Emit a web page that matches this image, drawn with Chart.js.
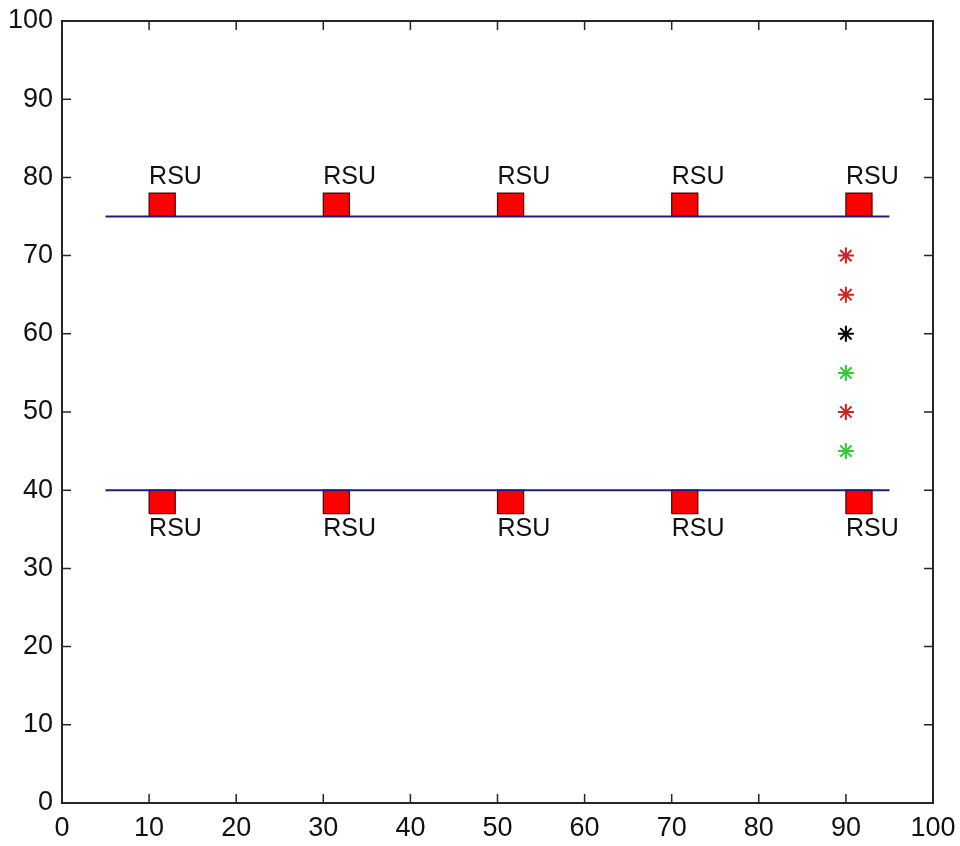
<!DOCTYPE html>
<html>
<head>
<meta charset="utf-8">
<script src="https://cdn.jsdelivr.net/npm/chart.js@4.4.0/dist/chart.umd.min.js"></script>
<style>
  html, body { margin: 0; padding: 0; background: #fff; }
  canvas { display: block; }
</style>
</head>
<body>
<canvas id="myChart" width="960" height="846"></canvas>
<script>
// road lines (y value, from x to x)
var roadY = [75, 40];
var roadStart = 5;
var roadEnd = 95;

// RSU boxes: lower-left corner x, box bottom y per row, box size
var rsuX = [10, 30, 50, 70, 90];
var rsuRowY = [75, 37];
var rsuSize = 3;
// RSU text labels
var rsuLabelY = [80, 35];
var rsuLabel = "RSU";

// vehicles at x = 90
var carX = [90, 90, 90, 90, 90, 90];
var carY = [70, 65, 60, 55, 50, 45];
var carColor = ['rgb(205,35,35)', 'rgb(205,35,35)', 'rgb(0,0,0)', 'rgb(50,205,50)', 'rgb(205,35,35)', 'rgb(50,205,50)'];

var tickVals = [0, 10, 20, 30, 40, 50, 60, 70, 80, 90, 100];

var datasets = [];

// roads
roadY.forEach(function (y) {
  datasets.push({
    type: 'line',
    data: [{x: roadStart, y: y}, {x: roadEnd, y: y}],
    borderColor: '#1e1e7a',
    borderWidth: 2,
    pointRadius: 0,
    fill: false
  });
});

// RSU boxes as closed filled shapes
rsuRowY.forEach(function (y0) {
  rsuX.forEach(function (x0) {
    datasets.push({
      type: 'line',
      data: [
        {x: x0, y: y0}, {x: x0 + rsuSize, y: y0},
        {x: x0 + rsuSize, y: y0 + rsuSize}, {x: x0, y: y0 + rsuSize},
        {x: x0, y: y0}
      ],
      borderColor: '#4a0000',
      borderWidth: 1.2,
      backgroundColor: '#ff0000',
      pointRadius: 0,
      tension: 0,
      fill: 'shape'
    });
  });
});

// vehicles
datasets.push({
  type: 'scatter',
  data: carX.map(function (x, i) { return {x: x, y: carY[i]}; }),
  pointStyle: 'star',
  pointRadius: 8,
  pointBorderWidth: 2,
  pointBorderColor: carColor,
  pointBackgroundColor: carColor
});

// box + inward ticks + RSU labels
var matlabAxes = {
  id: 'matlabAxes',
  afterDraw: function (chart) {
    var ctx = chart.ctx;
    var a = chart.chartArea;
    var xs = chart.scales.x, ys = chart.scales.y;
    ctx.save();
    ctx.strokeStyle = '#262626';
    ctx.lineWidth = 2;
    ctx.strokeRect(a.left, a.top, a.right - a.left, a.bottom - a.top);
    ctx.lineWidth = 1.5;
    ctx.beginPath();
    tickVals.forEach(function (v) {
      var px = xs.getPixelForValue(v);
      ctx.moveTo(px, a.bottom); ctx.lineTo(px, a.bottom - 9);
      ctx.moveTo(px, a.top); ctx.lineTo(px, a.top + 9);
      var py = ys.getPixelForValue(v);
      ctx.moveTo(a.left, py); ctx.lineTo(a.left + 9, py);
      ctx.moveTo(a.right, py); ctx.lineTo(a.right - 9, py);
    });
    ctx.stroke();

    ctx.fillStyle = '#111';
    ctx.font = '25px "Liberation Sans", Arial, sans-serif';
    ctx.textAlign = 'left';
    ctx.textBaseline = 'middle';
    rsuLabelY.forEach(function (ly) {
      rsuX.forEach(function (lx) {
        ctx.fillText(rsuLabel, xs.getPixelForValue(lx), ys.getPixelForValue(ly));
      });
    });
    ctx.restore();
  }
};

var tickFont = { family: '"Liberation Sans", Arial, sans-serif', size: 27, lineHeight: 1 };

var ctx = document.getElementById('myChart').getContext('2d');
var chart = new Chart(ctx, {
  type: 'scatter',
  data: { datasets: datasets },
  options: {
    responsive: false,
    animation: false,
    layout: { padding: { top: 21, right: 27, left: 0, bottom: 0 } },
    plugins: { legend: { display: false }, tooltip: { enabled: false } },
    scales: {
      x: {
        type: 'linear', min: 0, max: 100,
        grid: { display: false, drawTicks: false },
        border: { display: false },
        ticks: {
          stepSize: 10, padding: 12, color: '#111',
          maxRotation: 0, autoSkip: false,
          font: tickFont
        },
        afterFit: function (s) { s.height = 43; s.paddingLeft = 0; s.paddingRight = 0; }
      },
      y: {
        type: 'linear', min: 0, max: 100,
        grid: { display: false, drawTicks: false },
        border: { display: false },
        ticks: {
          stepSize: 10, padding: 9, color: '#111', autoSkip: false,
          font: tickFont
        },
        afterFit: function (s) { s.width = 62; s.paddingTop = 0; s.paddingBottom = 0; }
      }
    }
  },
  plugins: [matlabAxes]
});
</script>
</body>
</html>
